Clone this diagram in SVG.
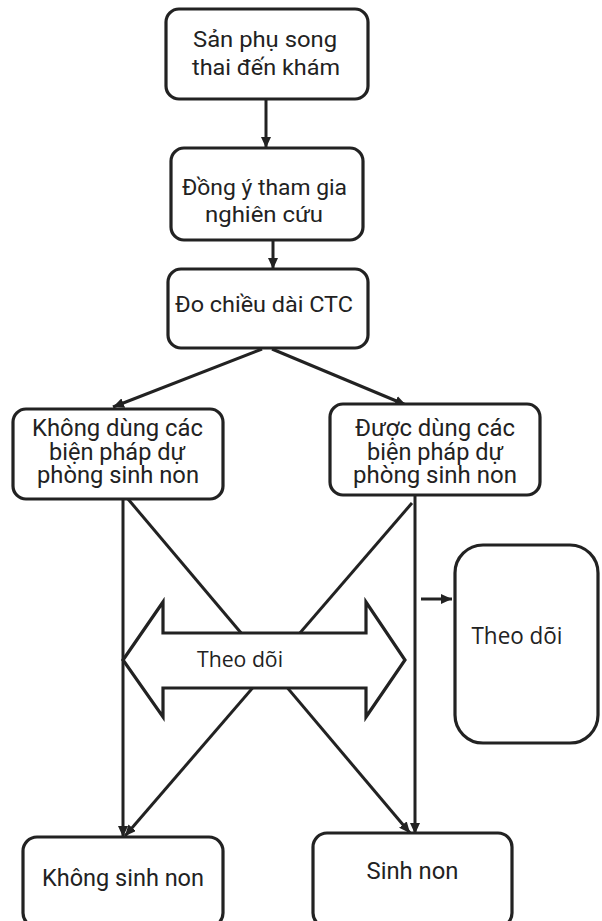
<svg xmlns="http://www.w3.org/2000/svg" width="602" height="921" viewBox="0 0 602 921">
<style>
.box{fill:#fff;stroke:#222;stroke-width:3.2}
.t{font-family:Roboto,"Liberation Sans",sans-serif;fill:#222;text-anchor:middle}
.t2{font-family:"Open Sans","Liberation Sans",sans-serif;fill:#222;text-anchor:middle}
.ln{stroke:#222;stroke-width:3;fill:none}
.arr{marker-end:url(#ah)}
</style>
<defs>
<marker id="ah" markerUnits="userSpaceOnUse" markerWidth="11" markerHeight="10" refX="11" refY="5" orient="auto">
<path d="M0,0 L11,5 L0,10 z" fill="#222"/>
</marker>
</defs>
<rect width="602" height="921" fill="#fff"/>
<g id="connectors">
<line class="ln arr" x1="266" y1="99" x2="266" y2="148"/>
<line class="ln arr" x1="273" y1="240" x2="273" y2="269"/>
<line class="ln arr" x1="262" y1="349" x2="113" y2="407"/>
<line class="ln arr" x1="272" y1="349" x2="406" y2="405"/>
<line class="ln arr" x1="123" y1="499" x2="123" y2="837"/>
<line class="ln arr" x1="415" y1="495" x2="415" y2="834"/>
<line class="ln arr" x1="128" y1="499" x2="410" y2="833"/>
<line class="ln arr" x1="412" y1="503" x2="125" y2="836"/>
<line class="ln arr" x1="421" y1="599" x2="452" y2="599"/>
</g>
<g id="n1"><rect class="box" x="166" y="9" width="202" height="90" rx="13"/>
<text class="t" font-size="22.5" x="265" y="47" textLength="144" lengthAdjust="spacingAndGlyphs">Sản phụ song</text>
<text class="t" font-size="22.5" x="266" y="75" textLength="148" lengthAdjust="spacingAndGlyphs">thai đến khám</text></g>
<g id="n2"><rect class="box" x="171" y="148" width="192" height="92" rx="13"/>
<text class="t" font-size="22.5" x="264.5" y="195" textLength="165" lengthAdjust="spacingAndGlyphs">Đồng ý tham gia</text>
<text class="t" font-size="22.5" x="264" y="222" textLength="118" lengthAdjust="spacingAndGlyphs">nghiên cứu</text></g>
<g id="n3"><rect class="box" x="168" y="269" width="200" height="79" rx="13"/>
<text class="t" font-size="22" x="264" y="312" textLength="178" lengthAdjust="spacingAndGlyphs">Đo chiều dài CTC</text></g>
<g id="n4"><rect class="box" x="13" y="409" width="210" height="90" rx="13"/>
<text class="t" font-size="23" x="117.5" y="436" textLength="171" lengthAdjust="spacingAndGlyphs">Không dùng các</text>
<text class="t" font-size="23" x="117" y="459.5" textLength="136" lengthAdjust="spacingAndGlyphs">biện pháp dự</text>
<text class="t" font-size="23" x="118" y="483" textLength="162" lengthAdjust="spacingAndGlyphs">phòng sinh non</text></g>
<g id="n5"><rect class="box" x="330" y="404" width="210" height="91" rx="13"/>
<text class="t" font-size="23" x="435" y="436" textLength="160" lengthAdjust="spacingAndGlyphs">Được dùng các</text>
<text class="t" font-size="23" x="435" y="459.5" textLength="136" lengthAdjust="spacingAndGlyphs">biện pháp dự</text>
<text class="t" font-size="23" x="435" y="483" textLength="164" lengthAdjust="spacingAndGlyphs">phòng sinh non</text></g>
<g id="n6"><path class="box" d="M123,660 L163,602 L163,633 L366,633 L366,602 L405,660 L366,717 L366,688 L163,688 L163,717 Z"/>
<text class="t2" font-size="22" x="240" y="667" textLength="86" lengthAdjust="spacingAndGlyphs">Theo dõi</text></g>
<g id="n7"><rect class="box" x="455" y="545" width="143" height="198" rx="28"/>
<text class="t2" font-size="23" x="517" y="644" textLength="91" lengthAdjust="spacingAndGlyphs">Theo dõi</text></g>
<g id="n8"><rect class="box" x="23" y="837" width="200" height="90" rx="14"/>
<text class="t" font-size="24.5" x="123" y="886" textLength="162" lengthAdjust="spacingAndGlyphs">Không sinh non</text></g>
<g id="n9"><rect class="box" x="313" y="833" width="199" height="94" rx="14"/>
<text class="t" font-size="24.5" x="412.5" y="879" textLength="92" lengthAdjust="spacingAndGlyphs">Sinh non</text></g>
</svg>
